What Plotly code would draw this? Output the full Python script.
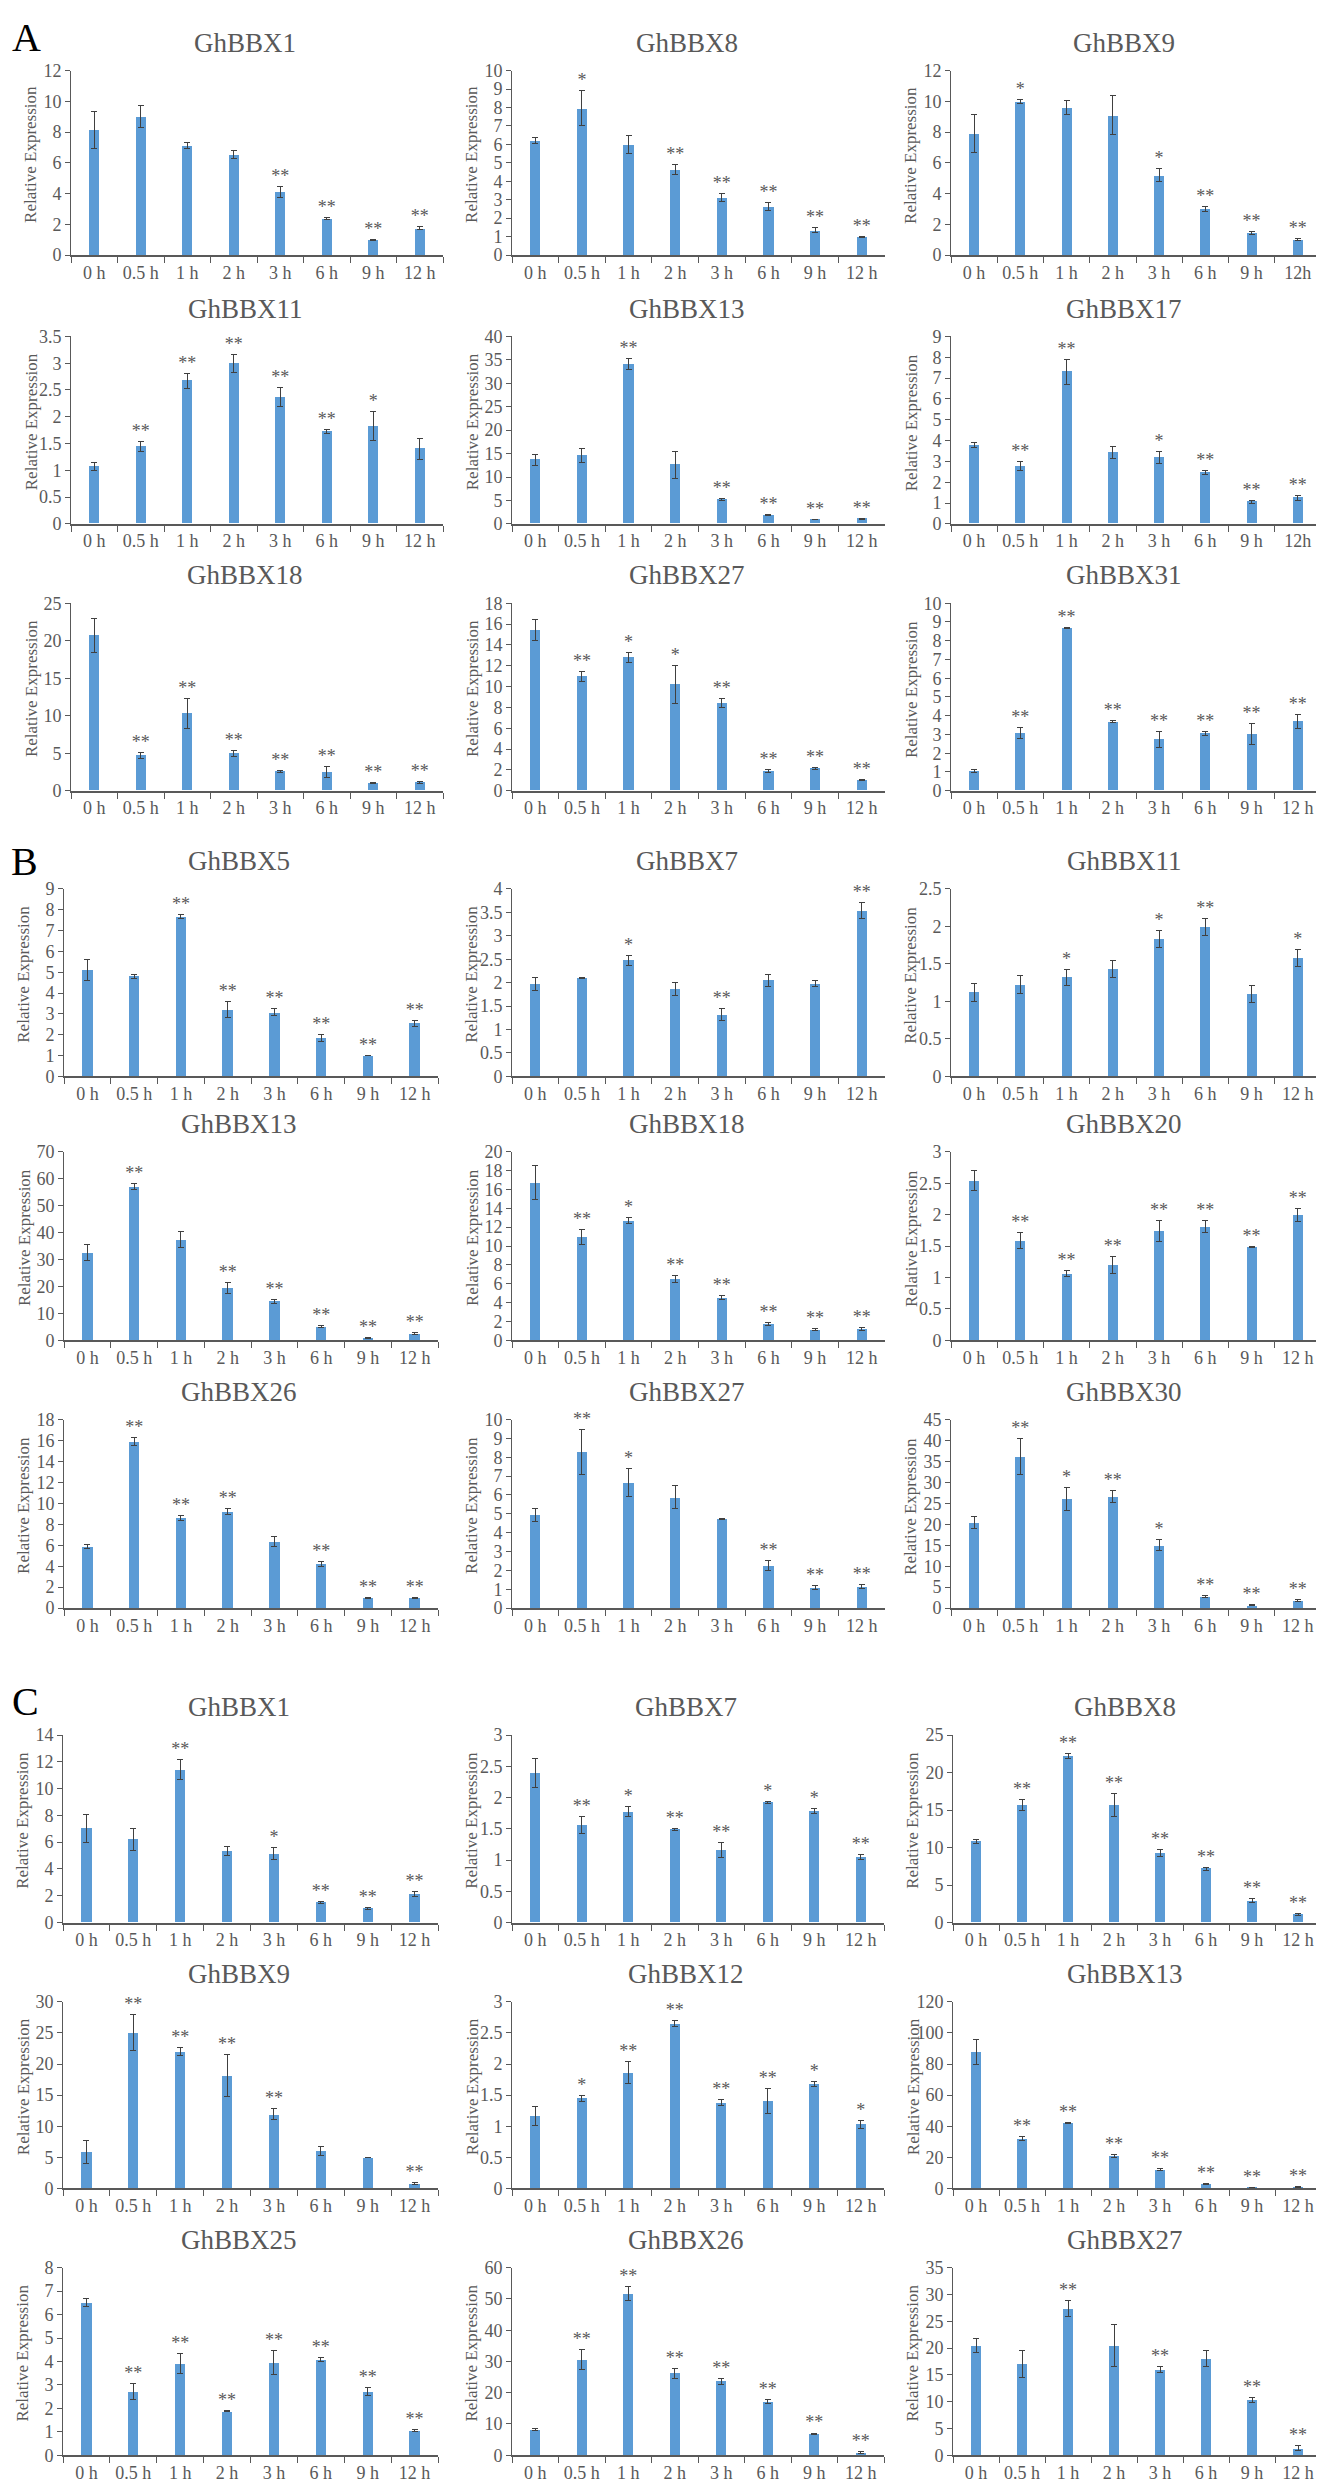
import plotly.graph_objects as go

W, H = 1324, 2481

times = ["0 h", "0.5 h", "1 h", "2 h", "3 h", "6 h", "9 h", "12 h"]
times2 = ["0 h", "0.5 h", "1 h", "2 h", "3 h", "6 h", "9 h", "12h"]

# ---- panel A ----
a_bbx1 = [8.15, 9.0, 7.1, 6.55, 4.1, 2.4, 1.0, 1.75]
a_bbx1_sd = [1.2, 0.7, 0.2, 0.25, 0.35, 0.07, 0.03, 0.1]
a_bbx1_sig = ["", "", "", "", "**", "**", "**", "**"]

a_bbx8 = [6.2, 7.95, 6.0, 4.65, 3.1, 2.62, 1.35, 1.0]
a_bbx8_sd = [0.15, 0.95, 0.5, 0.28, 0.22, 0.22, 0.15, 0.03]
a_bbx8_sig = ["", "*", "", "**", "**", "**", "**", "**"]

a_bbx9 = [7.9, 10.0, 9.6, 9.1, 5.2, 3.0, 1.45, 1.03]
a_bbx9_sd = [1.25, 0.15, 0.45, 1.25, 0.42, 0.18, 0.1, 0.07]
a_bbx9_sig = ["", "*", "", "", "*", "**", "**", "**"]

a_bbx11 = [1.07, 1.45, 2.67, 3.0, 2.37, 1.72, 1.82, 1.4]
a_bbx11_sd = [0.07, 0.09, 0.14, 0.17, 0.18, 0.04, 0.27, 0.2]
a_bbx11_sig = ["", "**", "**", "**", "**", "**", "*", ""]

a_bbx13 = [13.7, 14.6, 34.1, 12.6, 5.2, 1.9, 0.9, 1.1]
a_bbx13_sd = [1.2, 1.4, 1.1, 2.9, 0.15, 0.1, 0.05, 0.1]
a_bbx13_sig = ["", "", "**", "", "**", "**", "**", "**"]

a_bbx17 = [3.78, 2.78, 7.3, 3.43, 3.18, 2.45, 1.07, 1.25]
a_bbx17_sd = [0.12, 0.2, 0.6, 0.3, 0.28, 0.1, 0.07, 0.12]
a_bbx17_sig = ["", "**", "**", "", "*", "**", "**", "**"]

a_bbx18 = [20.7, 4.7, 10.3, 5.0, 2.6, 2.5, 1.0, 1.1]
a_bbx18_sd = [2.3, 0.4, 2.0, 0.4, 0.15, 0.75, 0.05, 0.1]
a_bbx18_sig = ["", "**", "**", "**", "**", "**", "**", "**"]

a_bbx27 = [15.4, 10.95, 12.8, 10.2, 8.4, 1.9, 2.15, 1.05]
a_bbx27_sd = [1.0, 0.5, 0.5, 1.8, 0.45, 0.15, 0.1, 0.05]
a_bbx27_sig = ["", "**", "*", "*", "**", "**", "**", "**"]

a_bbx31 = [1.05, 3.07, 8.68, 3.67, 2.73, 3.05, 3.02, 3.68]
a_bbx31_sd = [0.1, 0.3, 0.05, 0.05, 0.42, 0.12, 0.55, 0.38]
a_bbx31_sig = ["", "**", "**", "**", "**", "**", "**", "**"]

# ---- panel B ----
b_bbx5 = [5.1, 4.8, 7.67, 3.2, 3.07, 1.85, 1.0, 2.55]
b_bbx5_sd = [0.5, 0.1, 0.1, 0.38, 0.17, 0.17, 0.02, 0.15]
b_bbx5_sig = ["", "", "**", "**", "**", "**", "**", "**"]

b_bbx7 = [1.97, 2.1, 2.48, 1.87, 1.32, 2.05, 1.98, 3.53]
b_bbx7_sd = [0.14, 0.01, 0.11, 0.14, 0.12, 0.13, 0.07, 0.17]
b_bbx7_sig = ["", "", "*", "", "**", "", "", "**"]

b_bbx11 = [1.12, 1.22, 1.32, 1.43, 1.83, 1.99, 1.1, 1.58]
b_bbx11_sd = [0.12, 0.12, 0.11, 0.11, 0.11, 0.11, 0.11, 0.11]
b_bbx11_sig = ["", "", "*", "", "*", "**", "", "*"]

b_bbx13 = [32.5, 57.1, 37.5, 19.4, 14.5, 5.0, 1.0, 2.5]
b_bbx13_sd = [3.0, 1.0, 3.0, 2.0, 0.8, 0.3, 0.2, 0.2]
b_bbx13_sig = ["", "**", "", "**", "**", "**", "**", "**"]

b_bbx18 = [16.7, 11.0, 12.7, 6.5, 4.5, 1.7, 1.15, 1.2]
b_bbx18_sd = [1.8, 0.8, 0.35, 0.4, 0.2, 0.15, 0.15, 0.2]
b_bbx18_sig = ["", "**", "*", "**", "**", "**", "**", "**"]

b_bbx20 = [2.54, 1.59, 1.06, 1.2, 1.74, 1.81, 1.48, 1.99]
b_bbx20_sd = [0.16, 0.13, 0.05, 0.14, 0.17, 0.09, 0.01, 0.1]
b_bbx20_sig = ["", "**", "**", "**", "**", "**", "**", "**"]

b_bbx26 = [5.9, 15.9, 8.6, 9.2, 6.35, 4.2, 1.0, 1.0]
b_bbx26_sd = [0.2, 0.35, 0.2, 0.3, 0.45, 0.25, 0.05, 0.05]
b_bbx26_sig = ["", "**", "**", "**", "", "**", "**", "**"]

b_bbx27 = [4.95, 8.3, 6.65, 5.88, 4.73, 2.25, 1.1, 1.15]
b_bbx27_sd = [0.33, 1.2, 0.75, 0.62, 0.03, 0.25, 0.1, 0.1]
b_bbx27_sig = ["", "**", "*", "", "", "**", "**", "**"]

b_bbx30 = [20.4, 36.2, 26.1, 26.6, 15.0, 2.8, 0.7, 1.8]
b_bbx30_sd = [1.5, 4.2, 2.7, 1.4, 1.3, 0.3, 0.1, 0.2]
b_bbx30_sig = ["", "**", "*", "**", "*", "**", "**", "**"]

# ---- panel C ----
c_bbx1 = [7.05, 6.2, 11.4, 5.35, 5.15, 1.5, 1.05, 2.15]
c_bbx1_sd = [1.05, 0.8, 0.75, 0.35, 0.45, 0.1, 0.05, 0.2]
c_bbx1_sig = ["", "", "**", "", "*", "**", "**", "**"]

c_bbx7 = [2.39, 1.56, 1.77, 1.49, 1.16, 1.92, 1.78, 1.05]
c_bbx7_sd = [0.23, 0.13, 0.08, 0.01, 0.12, 0.01, 0.04, 0.04]
c_bbx7_sig = ["", "**", "*", "**", "**", "*", "*", "**"]

c_bbx8 = [10.8, 15.7, 22.2, 15.7, 9.3, 7.2, 2.9, 1.1]
c_bbx8_sd = [0.3, 0.7, 0.3, 1.5, 0.45, 0.2, 0.25, 0.15]
c_bbx8_sig = ["", "**", "**", "**", "**", "**", "**", "**"]

c_bbx9 = [5.85, 25.0, 22.0, 18.1, 11.9, 6.05, 4.95, 0.8]
c_bbx9_sd = [1.9, 2.9, 0.6, 3.4, 0.9, 0.7, 0.05, 0.1]
c_bbx9_sig = ["", "**", "**", "**", "**", "", "", "**"]

c_bbx12 = [1.16, 1.45, 1.86, 2.65, 1.38, 1.41, 1.68, 1.03]
c_bbx12_sd = [0.15, 0.05, 0.18, 0.05, 0.05, 0.2, 0.04, 0.06]
c_bbx12_sig = ["", "*", "**", "**", "**", "**", "*", "*"]

c_bbx13 = [88.0, 32.0, 42.0, 21.0, 12.0, 2.8, 0.5, 1.0]
c_bbx13_sd = [8.0, 1.5, 0.5, 1.0, 0.5, 0.5, 0.1, 0.3]
c_bbx13_sig = ["", "**", "**", "**", "**", "**", "**", "**"]

c_bbx25 = [6.5, 2.72, 3.9, 1.87, 3.95, 4.08, 2.7, 1.05]
c_bbx25_sd = [0.17, 0.35, 0.42, 0.02, 0.5, 0.08, 0.17, 0.05]
c_bbx25_sig = ["", "**", "**", "**", "**", "**", "**", "**"]

c_bbx26 = [8.2, 30.5, 51.8, 26.3, 23.7, 17.2, 6.8, 0.9]
c_bbx26_sd = [0.3, 3.2, 2.3, 1.6, 1.0, 0.7, 0.3, 0.2]
c_bbx26_sig = ["", "**", "**", "**", "**", "**", "**", "**"]

c_bbx27 = [20.5, 17.0, 27.4, 20.5, 16.0, 18.0, 10.3, 1.3]
c_bbx27_sd = [1.3, 2.5, 1.5, 3.9, 0.5, 1.5, 0.4, 0.5]
c_bbx27_sig = ["", "", "**", "", "**", "", "**", "**"]

# (group, title, means, sd, sig, ymax, dtick, x labels)
panels = [
    ("A", "GhBBX1", a_bbx1, a_bbx1_sd, a_bbx1_sig, 12, 2, times),
    ("A", "GhBBX8", a_bbx8, a_bbx8_sd, a_bbx8_sig, 10, 1, times),
    ("A", "GhBBX9", a_bbx9, a_bbx9_sd, a_bbx9_sig, 12, 2, times2),
    ("A", "GhBBX11", a_bbx11, a_bbx11_sd, a_bbx11_sig, 3.5, 0.5, times),
    ("A", "GhBBX13", a_bbx13, a_bbx13_sd, a_bbx13_sig, 40, 5, times),
    ("A", "GhBBX17", a_bbx17, a_bbx17_sd, a_bbx17_sig, 9, 1, times2),
    ("A", "GhBBX18", a_bbx18, a_bbx18_sd, a_bbx18_sig, 25, 5, times),
    ("A", "GhBBX27", a_bbx27, a_bbx27_sd, a_bbx27_sig, 18, 2, times),
    ("A", "GhBBX31", a_bbx31, a_bbx31_sd, a_bbx31_sig, 10, 1, times),
    ("B", "GhBBX5", b_bbx5, b_bbx5_sd, b_bbx5_sig, 9, 1, times),
    ("B", "GhBBX7", b_bbx7, b_bbx7_sd, b_bbx7_sig, 4, 0.5, times),
    ("B", "GhBBX11", b_bbx11, b_bbx11_sd, b_bbx11_sig, 2.5, 0.5, times),
    ("B", "GhBBX13", b_bbx13, b_bbx13_sd, b_bbx13_sig, 70, 10, times),
    ("B", "GhBBX18", b_bbx18, b_bbx18_sd, b_bbx18_sig, 20, 2, times),
    ("B", "GhBBX20", b_bbx20, b_bbx20_sd, b_bbx20_sig, 3, 0.5, times),
    ("B", "GhBBX26", b_bbx26, b_bbx26_sd, b_bbx26_sig, 18, 2, times),
    ("B", "GhBBX27", b_bbx27, b_bbx27_sd, b_bbx27_sig, 10, 1, times),
    ("B", "GhBBX30", b_bbx30, b_bbx30_sd, b_bbx30_sig, 45, 5, times),
    ("C", "GhBBX1", c_bbx1, c_bbx1_sd, c_bbx1_sig, 14, 2, times),
    ("C", "GhBBX7", c_bbx7, c_bbx7_sd, c_bbx7_sig, 3, 0.5, times),
    ("C", "GhBBX8", c_bbx8, c_bbx8_sd, c_bbx8_sig, 25, 5, times),
    ("C", "GhBBX9", c_bbx9, c_bbx9_sd, c_bbx9_sig, 30, 5, times),
    ("C", "GhBBX12", c_bbx12, c_bbx12_sd, c_bbx12_sig, 3, 0.5, times),
    ("C", "GhBBX13", c_bbx13, c_bbx13_sd, c_bbx13_sig, 120, 20, times),
    ("C", "GhBBX25", c_bbx25, c_bbx25_sd, c_bbx25_sig, 8, 1, times),
    ("C", "GhBBX26", c_bbx26, c_bbx26_sd, c_bbx26_sig, 60, 10, times),
    ("C", "GhBBX27", c_bbx27, c_bbx27_sd, c_bbx27_sig, 35, 5, times),
]

# pixel layout (top of y axis / zero line for each row, x extents per column)
row_top = [53, 321, 590, 878, 1143, 1413, 1731, 2000, 2268]
row_zero = [239, 510, 779, 1067, 1333, 1603, 1920, 2188, 2457]
col_x = {"A": [(63, 435), (504, 877), (943, 1313)],
         "B": [(56, 430), (504, 877), (943, 1313)],
         "C": [(55, 430), (504, 876), (945, 1313)]}

FONT = "Liberation Serif"
GREY = "#595959"
BLUE = "#5b9bd5"

fig = go.Figure()
annotations = []
layout = {}

for i, (grp, name, mean, sd, sig, ymax, dt, labels) in enumerate(panels):
    r, c = divmod(i, 3)
    k = i + 1
    sfx = "" if k == 1 else str(k)
    xa, ya = "x" + sfx, "y" + sfx

    fig.add_trace(go.Bar(
        x=labels, y=mean, width=0.22, marker=dict(color=BLUE, line=dict(width=0)),
        error_y=dict(type="data", array=sd, color="#404040", thickness=1, width=3),
        xaxis=xa, yaxis=ya, showlegend=False))
    tops = [m + s for m, s in zip(mean, sd)]
    fig.add_trace(go.Scatter(
        x=labels, y=tops, mode="text", text=sig, textposition="top center",
        textfont=dict(family=FONT, size=18, color=GREY), cliponaxis=False,
        xaxis=xa, yaxis=ya, showlegend=False))

    x0, x1 = col_x[grp][c]
    y0 = 1 - row_zero[r] / H
    y1 = 1 - row_top[r] / H
    layout["xaxis" + sfx] = dict(
        domain=[x0 / W, x1 / W], anchor=ya, type="category", range=[-0.5, 7.5],
        showline=True, linecolor=GREY, linewidth=2, ticks="outside",
        tickson="boundaries", ticklen=6, tickcolor=GREY, showgrid=False,
        tickfont=dict(family=FONT, size=18, color=GREY), fixedrange=True)
    layout["yaxis" + sfx] = dict(
        domain=[y0, y1], anchor=xa, range=[0, ymax], tick0=0, dtick=dt,
        showline=True, linecolor=GREY, linewidth=1, ticks="outside", ticklen=5,
        tickcolor=GREY, showgrid=False, zeroline=False,
        tickfont=dict(family=FONT, size=18, color=GREY), fixedrange=True)

    # subplot title
    annotations.append(dict(
        text=name, x=((x0 + x1) / 2 - 12) / W, y=1 - (row_top[r] - 28) / H,
        xref="paper", yref="paper", showarrow=False, xanchor="center", yanchor="middle",
        font=dict(family=FONT, size=27, color=GREY)))
    # y axis title
    annotations.append(dict(
        text="Relative Expression", textangle=-90, x=(x0 - 40) / W,
        y=1 - ((row_top[r] + row_zero[r]) / 2 - 8) / H,
        xref="paper", yref="paper", showarrow=False, xanchor="center", yanchor="middle",
        font=dict(family=FONT, size=17, color=GREY)))

for letter, lx, ly in [("A", 18, 20), ("B", 16, 850), ("C", 17, 1697)]:
    annotations.append(dict(
        text=letter, x=lx / W, y=1 - ly / H, xref="paper", yref="paper",
        showarrow=False, xanchor="center", yanchor="middle",
        font=dict(family=FONT, size=40, color="black")))

fig.update_layout(
    width=W, height=H, margin=dict(l=0, r=0, t=0, b=0),
    paper_bgcolor="white", plot_bgcolor="white", bargap=0,
    annotations=annotations, **layout)

fig.write_html("out.html")
